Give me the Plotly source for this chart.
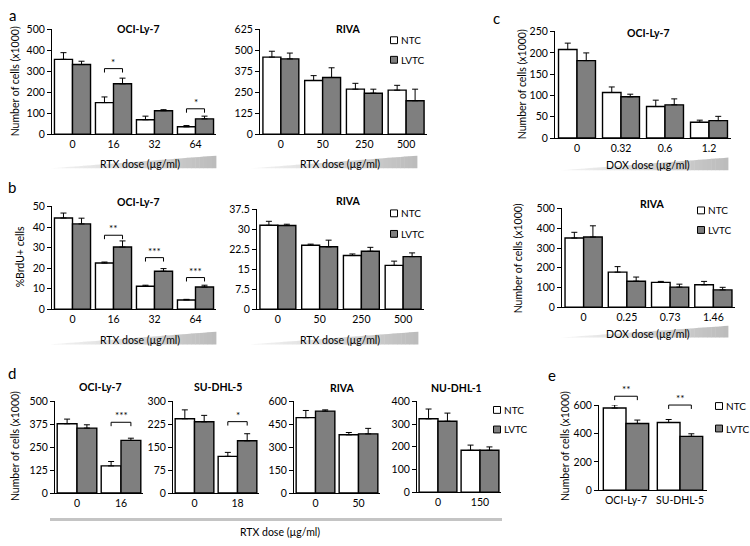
import plotly.graph_objects as go

W, H = 750, 546
FONT = "Lato"
NTC_COLOR = "white"
LVTC_COLOR = "#7f7f7f"

# ---------------- data ----------------
# panel a : number of cells (x1000) vs RTX dose
a1_cats = ["0", "16", "32", "64"]
a1_ntc = [358, 151, 69, 35]
a1_ntc_err = [32, 27, 17, 6]
a1_lvtc = [333, 241, 112, 73]
a1_lvtc_err = [16, 27, 5, 13]
a1_sig = [(1, 313, "*"), (3, 121, "*")]

a2_cats = ["0", "50", "250", "500"]
a2_ntc = [461, 321, 269, 263]
a2_ntc_err = [35, 29, 35, 29]
a2_lvtc = [450, 339, 245, 200]
a2_lvtc_err = [35, 58, 24, 69]
a2_sig = []

# panel b : %BrdU+ cells vs RTX dose
b1_cats = ["0", "16", "32", "64"]
b1_ntc = [44.5, 22.5, 11.2, 4.5]
b1_ntc_err = [2.4, 0.5, 0.5, 0.3]
b1_lvtc = [41.6, 30.3, 18.5, 10.8]
b1_lvtc_err = [2.8, 3.0, 1.3, 0.9]
b1_sig = [(1, 36, "**"), (2, 25.1, "***"), (3, 15.4, "***")]

b2_cats = ["0", "50", "250", "500"]
b2_ntc = [31.6, 24.1, 20.2, 16.5]
b2_ntc_err = [1.5, 0.4, 0.6, 1.6]
b2_lvtc = [31.5, 23.5, 21.8, 19.8]
b2_lvtc_err = [0.5, 2.5, 1.5, 1.4]
b2_sig = []

# panel c : number of cells vs DOX dose
c1_cats = ["0", "0.32", "0.6", "1.2"]
c1_ntc = [208, 107, 74, 37]
c1_ntc_err = [15, 13, 15, 5]
c1_lvtc = [182, 97, 78, 41]
c1_lvtc_err = [18, 6, 14, 10]
c1_sig = []

c2_cats = ["0", "0.25", "0.73", "1.46"]
c2_ntc = [351, 178, 126, 114]
c2_ntc_err = [29, 28, 5, 17]
c2_lvtc = [356, 132, 102, 88]
c2_lvtc_err = [57, 21, 15, 13]
c2_sig = []

# panel d : number of cells vs RTX dose, four cell lines
d1_cats = ["0", "16"]
d1_ntc = [378, 148]
d1_ntc_err = [25, 24]
d1_lvtc = [354, 287]
d1_lvtc_err = [18, 12]
d1_sig = [(1, 385, "***")]

d2_cats = ["0", "18"]
d2_ntc = [243, 120]
d2_ntc_err = [29, 13]
d2_lvtc = [233, 171]
d2_lvtc_err = [21, 23]
d2_sig = [(1, 233, "*")]

d3_cats = ["0", "50"]
d3_ntc = [493, 381]
d3_ntc_err = [47, 15]
d3_lvtc = [536, 387]
d3_lvtc_err = [8, 36]
d3_sig = []

d4_cats = ["0", "150"]
d4_ntc = [323, 184]
d4_ntc_err = [43, 23]
d4_lvtc = [312, 184]
d4_lvtc_err = [36, 15]
d4_sig = []

# panel e : number of cells, two cell lines
e_cats = ["OCI-Ly-7", "SU-DHL-5"]
e_ntc = [580, 478]
e_ntc_err = [22, 21]
e_lvtc = [471, 380]
e_lvtc_err = [24, 18]
e_sig = [(0, 662, "**"), (1, 600, "**")]


# ---------------- helpers ----------------
def px(x):
    return x / W


def py(y):
    return 1 - y / H


fig = go.Figure()
shapes = []
annotations = []
layout_axes = {}


def text(x, y, s, size=10.5, bold=False, angle=0, xanchor="center", yanchor="middle"):
    annotations.append(dict(
        x=px(x), y=py(y), xref="paper", yref="paper", text=f"<b>{s}</b>" if bold else s,
        showarrow=False, textangle=angle, xanchor=xanchor, yanchor=yanchor,
        font=dict(family=FONT, size=size, color="black")))


def add_panel(i, cats, ntc, ntc_err, lvtc, lvtc_err, sig, xdom, ydom, ymax, ytickvals, yticktext, barw):
    xa = "x" if i == 1 else f"x{i}"
    ya = "y" if i == 1 else f"y{i}"
    n = len(cats)
    pos = list(range(n))
    for vals, errs, col, off in ((ntc, ntc_err, NTC_COLOR, -barw), (lvtc, lvtc_err, LVTC_COLOR, 0)):
        fig.add_trace(go.Bar(
            x=pos, y=vals, width=barw, offset=off, cliponaxis=False,
            marker=dict(color=col, line=dict(color="black", width=1.4)),
            error_y=dict(type="data", symmetric=False, array=errs, arrayminus=[0] * n,
                         color="black", thickness=1, width=3),
            xaxis=xa, yaxis=ya, showlegend=False, hoverinfo="skip"))
    xname = "xaxis" if i == 1 else f"xaxis{i}"
    yname = "yaxis" if i == 1 else f"yaxis{i}"
    layout_axes[xname] = dict(
        domain=[px(xdom[0]), px(xdom[1])], range=[-0.5, n - 0.5], anchor=ya,
        tickvals=pos, ticktext=cats, showline=True, linecolor="black", linewidth=1,
        ticks="", showgrid=False, zeroline=False, fixedrange=True,
        tickfont=dict(family=FONT, size=10.5, color="black"))
    layout_axes[yname] = dict(
        domain=[py(ydom[1]), py(ydom[0])], range=[0, ymax * 1.002], anchor=xa,
        tickvals=ytickvals, ticktext=yticktext, showline=True, linecolor="black", linewidth=1,
        ticks="outside", ticklen=4, tickcolor="black", showgrid=False, zeroline=False, fixedrange=True,
        tickfont=dict(family=FONT, size=10.5, color="black"))

    # significance brackets, mapped from data values to page pixels (not clipped)
    def xpix(v):
        return xdom[0] + (v + 0.5) / n * (xdom[1] - xdom[0])

    def ypix(v):
        return ydom[1] - v / ymax * (ydom[1] - ydom[0])

    for cat, yh, stars in sig:
        x1, x2 = xpix(cat - barw / 2), xpix(cat + barw / 2)
        yt = ypix(yh)
        shapes.append(dict(type="path", xref="paper", yref="paper",
                           path=f"M {px(x1)},{py(yt + 4)} L {px(x1)},{py(yt)} L {px(x2)},{py(yt)} L {px(x2)},{py(yt + 4)}",
                           line=dict(color="black", width=1)))
        text((x1 + x2) / 2, yt + 1, stars, size=10, yanchor="bottom")


def wedge(x0, x1, ybot, ytop, n=40):
    for k in range(n):
        xa = x0 + (x1 - x0) * k / n
        xb = x0 + (x1 - x0) * (k + 1) / n + 0.4
        ta = ybot - (ybot - ytop) * k / n
        tb = ybot - (ybot - ytop) * min(k + 1, n) / n
        t = (k + 0.5) / n
        c = int(245 - (245 - 188) * t)
        shapes.append(dict(type="path", xref="paper", yref="paper",
                           path=f"M {px(xa)},{py(ybot)} L {px(xb)},{py(ybot)} L {px(xb)},{py(tb)} L {px(xa)},{py(ta)} Z",
                           fillcolor=f"rgb({c},{c},{c})", line=dict(width=0), layer="below"))


def legend(x, y1, y2):
    for yy, col, lab in ((y1, NTC_COLOR, "NTC"), (y2, LVTC_COLOR, "LVTC")):
        shapes.append(dict(type="rect", xref="paper", yref="paper",
                           x0=px(x - 3.5), x1=px(x + 3.5), y0=py(yy + 3.5), y1=py(yy - 3.5),
                           fillcolor=col, line=dict(color="black", width=1)))
        text(x + 4.5, yy, lab, size=10, xanchor="left")


def ticks(step, count, fmt=lambda v: f"{v:g}"):
    vals = [step * k for k in range(count + 1)]
    return vals, [fmt(v) for v in vals]


YT = "Number of cells (x1000)"
DOSE_RTX = "RTX dose (µg/ml)"
DOSE_DOX = "DOX dose (µg/ml)"

# ---- panel a ----
tv, tt = ticks(100, 5)
add_panel(1, a1_cats, a1_ntc, a1_ntc_err, a1_lvtc, a1_lvtc_err, a1_sig, (52, 216), (24, 131), 500, tv, tt, 0.44)
tv, tt = ticks(125, 5)
add_panel(2, a2_cats, a2_ntc, a2_ntc_err, a2_lvtc, a2_lvtc_err, a2_sig, (260, 427), (24, 131), 625, tv, tt, 0.43)
text(12, 9, "a", size=15)
text(138, 24, "OCI-Ly-7", bold=True)
text(348, 24, "RIVA", bold=True)
text(15, 77, YT, angle=-90)
legend(394, 35, 55)
wedge(50, 216, 166, 153)
wedge(250, 417, 166, 153)
text(140, 162, DOSE_RTX)
text(340, 162, DOSE_RTX)

# ---- panel b ----
tv, tt = ticks(10, 5)
add_panel(3, b1_cats, b1_ntc, b1_ntc_err, b1_lvtc, b1_lvtc_err, b1_sig, (52, 216), (205, 310), 50, tv, tt, 0.44)
tv, tt = ticks(7.5, 5)
add_panel(4, b2_cats, b2_ntc, b2_ntc_err, b2_lvtc, b2_lvtc_err, b2_sig, (257, 424), (208, 310), 37.5, tv, tt, 0.43)
text(12, 185, "b", size=15)
text(138, 200, "OCI-Ly-7", bold=True)
text(348, 199, "RIVA", bold=True)
text(20, 257, "%BrdU+ cells", angle=-90)
legend(394, 212, 233)
wedge(50, 216, 346, 333)
wedge(250, 418, 346, 333)
text(140, 342, DOSE_RTX)
text(340, 342, DOSE_RTX)

# ---- panel c ----
tv, tt = ticks(50, 5)
add_panel(5, c1_cats, c1_ntc, c1_ntc_err, c1_lvtc, c1_lvtc_err, c1_sig, (555, 731), (26, 135), 250, tv, tt, 0.42)
tv, tt = ticks(100, 5)
add_panel(6, c2_cats, c2_ntc, c2_ntc_err, c2_lvtc, c2_lvtc_err, c2_sig, (562, 735), (207, 308), 500, tv, tt, 0.43)
text(497, 12, "c", size=15)
text(648, 28, "OCI-Ly-7", bold=True)
text(652, 202, "RIVA", bold=True)
text(522, 80, YT, angle=-90)
text(518, 258, YT, angle=-90)
legend(701, 209, 229)
wedge(560, 728, 168, 155)
wedge(560, 728, 339, 327)
text(648, 163, DOSE_DOX)
text(648, 335, DOSE_DOX)

# ---- panel d ----
tv, tt = ticks(125, 4)
add_panel(7, d1_cats, d1_ntc, d1_ntc_err, d1_lvtc, d1_lvtc_err, d1_sig, (55, 143), (404, 498), 500, tv, tt, 0.45)
tv, tt = ticks(75, 4)
add_panel(8, d2_cats, d2_ntc, d2_ntc_err, d2_lvtc, d2_lvtc_err, d2_sig, (173, 259), (404, 498), 300, tv, tt, 0.45)
tv, tt = ticks(150, 4)
add_panel(9, d3_cats, d3_ntc, d3_ntc_err, d3_lvtc, d3_lvtc_err, d3_sig, (294, 380), (404, 498), 600, tv, tt, 0.45)
tv, tt = ticks(100, 4)
add_panel(10, d4_cats, d4_ntc, d4_ntc_err, d4_lvtc, d4_lvtc_err, d4_sig, (417, 501), (404, 497), 400, tv, tt, 0.45)
text(12, 375, "d", size=15)
text(100, 390, "OCI-Ly-7", bold=True)
text(218, 390, "SU-DHL-5", bold=True)
text(342, 391, "RIVA", bold=True)
text(457, 391, "NU-DHL-1", bold=True)
text(15, 450, YT, angle=-90)
legend(497, 413, 433)
shapes.append(dict(type="line", xref="paper", yref="paper", x0=px(50), x1=px(502), y0=py(525), y1=py(525),
                   line=dict(color="#c4c4c4", width=3)))
text(280, 538, DOSE_RTX)

# ---- panel e ----
tv, tt = ticks(200, 3)
add_panel(11, e_cats, e_ntc, e_ntc_err, e_lvtc, e_lvtc_err, e_sig, (599, 707), (408, 495), 600, tv, tt, 0.42)
text(552, 377, "e", size=15)
text(565, 450, YT, angle=-90)
legend(719, 409, 432)

fig.update_layout(
    width=W, height=H, margin=dict(l=0, r=0, t=0, b=0),
    paper_bgcolor="white", plot_bgcolor="white",
    barmode="overlay", showlegend=False, hovermode=False,
    font=dict(family=FONT, size=10.5, color="black"),
    shapes=shapes, annotations=annotations,
    **layout_axes)

fig.write_html(
    "out.html",
    config={"displayModeBar": False, "staticPlot": True},
    post_script="document.body.style.margin='0';document.body.style.overflow='hidden';",
)
